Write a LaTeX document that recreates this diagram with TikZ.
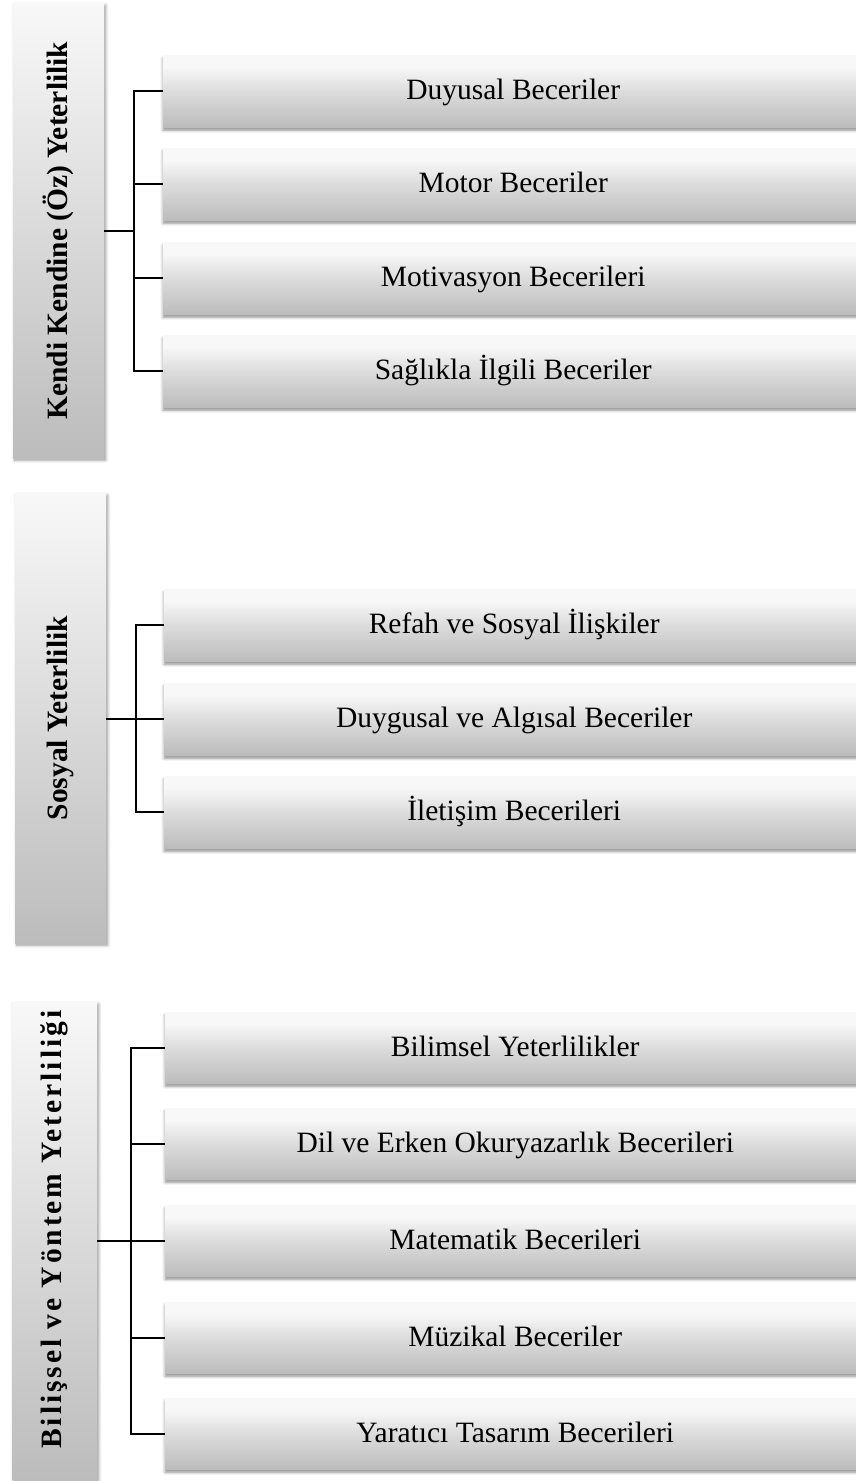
\documentclass[tikz,border=0pt]{standalone}
\usepackage{fontspec}
\setmainfont{Liberation Serif}
\usetikzlibrary{shadows.blur}
\definecolor{lt}{HTML}{F8F8F8}
\definecolor{md}{HTML}{DCDCDC}
\definecolor{dk}{HTML}{BCBCBC}
\pgfdeclareverticalshading{childshade}{100bp}{color(0bp)=(dk); color(25bp)=(dk); color(50bp)=(md); color(67bp)=(lt); color(100bp)=(lt)}
\pgfdeclareverticalshading{parentshade}{100bp}{color(0bp)=(dk); color(25bp)=(dk); color(75bp)=(lt); color(100bp)=(lt)}
\tikzset{
  childbox/.style={anchor=north west, shade, shading=childshade, minimum width=700pt, minimum height=72pt, inner sep=0pt,
    text height=21pt, text depth=4pt,
    font=\fontsize{29.5}{35}\selectfont,
    blur shadow={shadow xshift=0pt, shadow yshift=-3pt, shadow blur radius=3pt, shadow opacity=45}},
  parentbox/.style={anchor=north west, shade, shading=parentshade, inner sep=0pt,
    font=\bfseries\fontsize{29.5}{35}\selectfont,
    blur shadow={shadow xshift=1.5pt, shadow yshift=-2pt, shadow blur radius=3pt, shadow opacity=40}},
  link/.style={line width=2pt, black}
}
\begin{document}
\begin{tikzpicture}[x=1pt,y=1pt]
\useasboundingbox (0,0) rectangle (855,-1481);
% parents
\node[parentbox, minimum width=91pt, minimum height=455pt] (p1) at (13,-3) {\rotatebox{90}{Kendi Kendine (Öz) Yeterlilik}};
\node[parentbox, minimum width=91pt, minimum height=450pt] (p2) at (15,-493) {\rotatebox{90}{Sosyal Yeterlilik}};
\node[parentbox, minimum width=85pt, minimum height=477pt] (p3) at (12,-1002) {\rotatebox{90}{\hspace{22pt}\addfontfeature{LetterSpace=10}Bilişsel ve Yöntem Yeterliliği}};
% children panel 1
\node[childbox] (a1) at (163,-55) {Duyusal Beceriler};
\node[childbox] (a2) at (163,-148) {Motor Beceriler};
\node[childbox] (a3) at (163,-242) {Motivasyon Becerileri};
\node[childbox] (a4) at (163,-335) {Sağlıkla İlgili Beceriler};
% children panel 2
\node[childbox] (b1) at (164,-589) {Refah ve Sosyal İlişkiler};
\node[childbox] (b2) at (164,-683) {Duygusal ve Algısal Beceriler};
\node[childbox] (b3) at (164,-776) {İletişim Becerileri};
% children panel 3
\node[childbox, minimum height=71pt] (c1) at (165,-1012) {Bilimsel Yeterlilikler};
\node[childbox, minimum height=71pt] (c2) at (165,-1108) {Dil ve Erken Okuryazarlık Becerileri};
\node[childbox, minimum height=71pt] (c3) at (165,-1205) {Matematik Becerileri};
\node[childbox, minimum height=71pt] (c4) at (165,-1302) {Müzikal Beceriler};
\node[childbox, minimum height=71pt] (c5) at (165,-1398) {Yaratıcı Tasarım Becerileri};
% connectors panel 1
\coordinate (ta) at (134,-231);
\draw[link] (p1.east |- ta) -- (ta);
\draw[link] (a1.west) -- (a1.west -| ta) -- (a4.west -| ta) -- (a4.west);
\draw[link] (a2.west -| ta) -- (a2.west);
\draw[link] (a3.west -| ta) -- (a3.west);
% connectors panel 2
\coordinate (tb) at (136,-719);
\draw[link] (p2.east |- b2.west) -- (b2.west);
\draw[link] (b1.west) -- (b1.west -| tb) -- (b3.west -| tb) -- (b3.west);
% connectors panel 3
\coordinate (tc) at (131,-1241);
\draw[link] (p3.east |- c3.west) -- (c3.west);
\draw[link] (c1.west) -- (c1.west -| tc) -- (c5.west -| tc) -- (c5.west);
\draw[link] (c2.west -| tc) -- (c2.west);
\draw[link] (c4.west -| tc) -- (c4.west);
\end{tikzpicture}
\end{document}
